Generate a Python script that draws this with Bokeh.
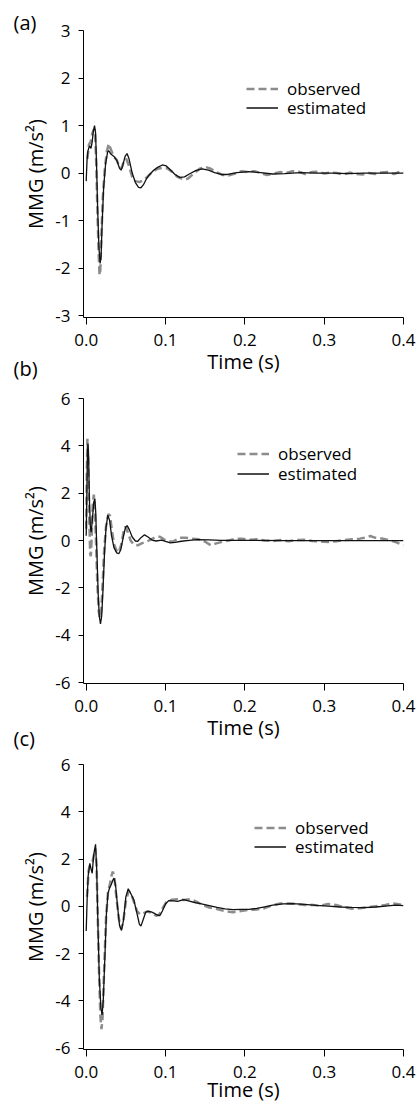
from bokeh.plotting import figure
from bokeh.layouts import column
from bokeh.models import (Legend, LegendItem, FixedTicker, PrintfTickFormatter, Range1d, Title)
from bokeh.embed import file_html
from bokeh.resources import INLINE

FONT = "Open Sans"

# ---------------- data ----------------
x_ticks = [0.0, 0.1, 0.2, 0.3, 0.4]
y_ticks_a = [-3, -2, -1, 0, 1, 2, 3]
y_ticks_bc = [-6, -4, -2, 0, 2, 4, 6]
panel_labels = ["(a)", "(b)", "(c)"]
legend_labels = ["observed", "estimated"]
x_title = "Time (s)"
y_title = "MMG (m/s\u00b2)"

# panel (a)
a_est_t = [0.000, 0.001, 0.002, 0.0033, 0.0045, 0.006, 0.0075, 0.009, 0.0105, 0.0118, 0.013, 0.0145,
           0.016, 0.0175, 0.0188, 0.020, 0.022, 0.0245, 0.027, 0.0285, 0.031, 0.035, 0.039, 0.042,
           0.044, 0.046, 0.049, 0.0515, 0.054, 0.058, 0.062, 0.066, 0.069, 0.072, 0.076, 0.080,
           0.085, 0.090, 0.096, 0.101, 0.106, 0.112, 0.118, 0.124, 0.130, 0.138, 0.146, 0.154,
           0.162, 0.170, 0.178, 0.190, 0.205, 0.220, 0.235, 0.250, 0.270, 0.290, 0.310, 0.330,
           0.350, 0.370, 0.390, 0.400]
a_est_v = [-0.17, 0.25, 0.45, 0.53, 0.57, 0.52, 0.65, 0.88, 1.00, 0.85, 0.20, -0.80,
           -1.55, -1.90, -1.75, -1.10, -0.30, 0.20, 0.44, 0.47, 0.40, 0.35, 0.25, 0.10,
           0.06, 0.15, 0.35, 0.41, 0.30, 0.00, -0.20, -0.30, -0.31, -0.25, -0.12, -0.03,
           0.06, 0.12, 0.17, 0.15, 0.07, -0.03, -0.09, -0.08, -0.02, 0.05, 0.09, 0.06,
           0.01, -0.03, -0.03, 0.01, 0.03, 0.01, -0.02, -0.01, 0.01, 0.00, 0.00, -0.01,
           0.00, 0.00, 0.00, 0.00]
a_obs_t = [0.0015, 0.0035, 0.0055, 0.0075, 0.0095, 0.011, 0.0125, 0.014, 0.0155, 0.0168, 0.0178,
           0.0192, 0.021, 0.0235, 0.026, 0.0285, 0.031, 0.0345, 0.0385, 0.042, 0.0445, 0.0475,
           0.0505, 0.054, 0.058, 0.062, 0.067, 0.072, 0.077, 0.083, 0.090, 0.096, 0.102, 0.108,
           0.115, 0.122, 0.128, 0.135, 0.143, 0.150, 0.157, 0.164, 0.172, 0.180, 0.188, 0.196,
           0.204, 0.212, 0.220, 0.228, 0.236, 0.244, 0.252, 0.260, 0.268, 0.276, 0.284, 0.292,
           0.300, 0.308, 0.316, 0.324, 0.332, 0.340, 0.348, 0.356, 0.364, 0.372, 0.380, 0.388,
           0.396, 0.400]
a_obs_v = [0.30, 0.60, 0.65, 0.82, 0.92, 0.90, 0.30, -0.70, -1.60, -2.15, -2.05,
           -1.30, -0.50, 0.10, 0.45, 0.62, 0.50, 0.35, 0.28, 0.12, 0.10, 0.25,
           0.30, 0.15, -0.08, -0.17, -0.19, -0.15, -0.08, 0.02, 0.09, 0.11, 0.10, 0.03,
           -0.08, -0.13, -0.12, -0.02, 0.09, 0.13, 0.09, 0.02, -0.04, -0.05, -0.01, 0.04,
           0.02, 0.04, 0.00, -0.04, -0.01, 0.02, 0.00, 0.04, 0.03, -0.02, 0.02, 0.03,
           -0.01, 0.01, 0.00, -0.03, 0.01, -0.02, -0.03, 0.00, -0.02, 0.01, 0.02, -0.02,
           0.03, 0.01]

# panel (b)
b_est_t = [0.000, 0.0008, 0.0015, 0.0022, 0.003, 0.004, 0.0052, 0.0063, 0.0078, 0.0095, 0.0109,
           0.012, 0.0135, 0.015, 0.0165, 0.018, 0.0195, 0.021, 0.023, 0.025, 0.0273, 0.0295,
           0.032, 0.035, 0.0385, 0.041, 0.0435, 0.0465, 0.0495, 0.0517, 0.0545, 0.058, 0.062,
           0.065, 0.069, 0.0735, 0.078, 0.083, 0.088, 0.095, 0.100, 0.106, 0.112, 0.120, 0.130,
           0.140, 0.155, 0.170, 0.200, 0.250, 0.300, 0.350, 0.400]
b_est_v = [0.20, 2.0, 3.6, 4.10, 3.6, 1.8, 0.6, 0.35, 0.9, 1.6, 1.77,
           1.2, -0.5, -2.2, -3.2, -3.52, -3.2, -2.2, -0.6, 0.55, 1.07, 0.85,
           0.20, -0.30, -0.52, -0.56, -0.40, 0.10, 0.55, 0.63, 0.45, 0.15, -0.02,
           -0.03, 0.12, 0.24, 0.15, 0.02, -0.02, 0.02, -0.04, -0.10, -0.08, -0.03, 0.01,
           0.04, 0.03, 0.01, 0.01, 0.00, 0.00, 0.00, 0.00]
b_obs_t = [0.000, 0.0008, 0.0015, 0.0025, 0.0038, 0.005, 0.0058, 0.0068, 0.0082, 0.0096, 0.011,
           0.0125, 0.014, 0.0158, 0.0175, 0.019, 0.0205, 0.0225, 0.025, 0.028, 0.030, 0.0325,
           0.0355, 0.039, 0.041, 0.044, 0.047, 0.0496, 0.0525, 0.056, 0.060, 0.065, 0.070,
           0.076, 0.082, 0.088, 0.093, 0.098, 0.104, 0.110, 0.118, 0.125, 0.133, 0.142, 0.150,
           0.157, 0.164, 0.172, 0.180, 0.188, 0.196, 0.205, 0.215, 0.225, 0.235, 0.245, 0.255,
           0.265, 0.275, 0.285, 0.295, 0.305, 0.315, 0.325, 0.335, 0.345, 0.352, 0.358, 0.364,
           0.370, 0.377, 0.384, 0.391, 0.400]
b_obs_v = [0.5, 2.8, 4.30, 3.5, 1.0, -0.55, -0.66, 0.0, 1.5, 1.94, 1.3,
           -0.2, -1.8, -3.0, -3.27, -3.0, -2.0, -0.5, 0.6, 1.12, 1.05, 0.40,
           -0.20, -0.48, -0.50, -0.20, 0.35, 0.60, 0.35, 0.00, -0.18, -0.20, -0.12,
           -0.05, 0.05, 0.15, 0.16, 0.05, -0.05, -0.03, 0.12, 0.12, 0.08, 0.05, -0.05,
           -0.20, -0.12, -0.05, 0.00, 0.08, 0.08, 0.03, 0.05, 0.00, -0.02, 0.02, -0.03,
           0.02, 0.03, -0.02, -0.04, -0.06, -0.03, 0.02, 0.05, 0.08, 0.12, 0.19, 0.12,
           0.10, 0.05, 0.00, -0.08, -0.20]

# panel (c)
c_est_t = [0.000, 0.0012, 0.0025, 0.0046, 0.006, 0.0076, 0.0095, 0.0118, 0.0132, 0.0148, 0.0165,
           0.0185, 0.020, 0.0215, 0.0235, 0.0255, 0.0275, 0.0295, 0.0315, 0.0335, 0.035, 0.037,
           0.0395, 0.042, 0.0445, 0.047, 0.050, 0.053, 0.056, 0.060, 0.064, 0.067, 0.069,
           0.072, 0.075, 0.078, 0.082, 0.086, 0.090, 0.093, 0.096, 0.100, 0.104, 0.110, 0.115,
           0.123, 0.130, 0.138, 0.144, 0.155, 0.165, 0.175, 0.185, 0.195, 0.205, 0.215, 0.225,
           0.235, 0.248, 0.260, 0.275, 0.290, 0.305, 0.320, 0.335, 0.350, 0.365, 0.380, 0.390,
           0.400]
c_est_v = [-1.05, 0.3, 1.3, 1.82, 1.6, 1.40, 2.2, 2.62, 1.6, -0.8, -3.0,
           -4.3, -4.60, -4.0, -2.2, -0.3, 0.55, 0.78, 0.91, 1.10, 1.19, 0.90,
           0.0, -0.80, -1.02, -0.60, 0.40, 0.74, 0.55, 0.28, -0.30, -0.75, -0.84,
           -0.55, -0.25, -0.21, -0.24, -0.30, -0.38, -0.39, -0.20, 0.10, 0.24, 0.23, 0.21,
           0.28, 0.22, 0.15, 0.11, 0.03, -0.05, -0.11, -0.14, -0.13, -0.13, -0.09, -0.02,
           0.05, 0.10, 0.11, 0.08, 0.04, 0.01, -0.03, -0.05, -0.06, -0.03, 0.02, 0.05,
           0.03]
c_obs_t = [0.001, 0.003, 0.005, 0.008, 0.010, 0.0115, 0.013, 0.0145, 0.016, 0.0178, 0.0192,
           0.0205, 0.0225, 0.025, 0.0275, 0.030, 0.032, 0.0335, 0.0355, 0.038, 0.041, 0.044,
           0.0465, 0.050, 0.0535, 0.057, 0.060, 0.064, 0.068, 0.072, 0.077, 0.083, 0.088,
           0.092, 0.096, 0.101, 0.108, 0.115, 0.123, 0.131, 0.139, 0.147, 0.155, 0.165, 0.175,
           0.185, 0.195, 0.205, 0.215, 0.225, 0.235, 0.245, 0.255, 0.265, 0.275, 0.285, 0.295,
           0.305, 0.315, 0.325, 0.335, 0.345, 0.355, 0.365, 0.375, 0.385, 0.392, 0.400]
c_obs_v = [0.4, 1.5, 1.78, 1.89, 2.2, 2.45, 1.8, -0.3, -2.5, -4.6, -5.2,
           -4.8, -2.8, -0.5, 0.60, 0.95, 1.30, 1.47, 1.25, 0.40, -0.50, -0.95,
           -0.70, 0.20, 0.65, 0.50, 0.20, -0.20, -0.35, -0.30, -0.22, -0.28, -0.40,
           -0.35, -0.10, 0.18, 0.28, 0.30, 0.27, 0.30, 0.20, 0.05, -0.05, -0.12, -0.20,
           -0.25, -0.20, -0.15, -0.14, -0.08, 0.05, 0.12, 0.12, 0.10, 0.05, 0.06, 0.03,
           0.10, 0.06, -0.04, -0.10, -0.08, -0.04, 0.00, 0.04, 0.12, 0.10, 0.05]

OBS_COLOR = "#8c8c8c"
EST_COLOR = "#111111"

X0 = -0.0034
X1 = 0.4
FRAME_LEFT = 83


def make_panel(height, border_top, border_bottom, y0, y1, yticks,
               obs_t, obs_v, est_t, est_v, legend_x, legend_ys, label, label_standoff,
               spacer, margin_top, xlabel_standoff):
    p = figure(width=416, height=height, output_backend="svg", toolbar_location=None,
               title=None,
               x_range=Range1d(X0, X1), y_range=Range1d(y0, y1),
               min_border_left=FRAME_LEFT, min_border_right=13,
               min_border_top=border_top, min_border_bottom=border_bottom,
               margin=(margin_top, 0, 0, 0))
    p.outline_line_color = None
    p.grid.visible = False
    p.background_fill_alpha = 0
    p.border_fill_alpha = 0

    r_obs = p.line(obs_t, obs_v, line_color=OBS_COLOR, line_width=2.5, line_dash="8 4")
    r_est = p.line(est_t, est_v, line_color=EST_COLOR, line_width=1.3)

    for ax in (p.xaxis[0], p.yaxis[0]):
        ax.axis_line_color = "black"
        ax.axis_line_width = 1
        ax.major_tick_line_color = "black"
        ax.minor_tick_line_color = None
        ax.major_tick_in = 0
        ax.major_label_text_font = FONT
        ax.major_label_text_font_size = "17px"
        ax.major_label_text_color = "black"
        ax.axis_label_text_font = FONT
        ax.axis_label_text_font_size = "20px"
        ax.axis_label_text_font_style = "normal"
        ax.axis_label_text_color = "black"

    p.xaxis.ticker = FixedTicker(ticks=x_ticks)
    p.xaxis.formatter = PrintfTickFormatter(format="%.1f")
    p.xaxis.major_tick_out = 7
    p.xaxis.major_label_standoff = 9
    p.xaxis.axis_label = x_title
    p.xaxis.axis_label_standoff = xlabel_standoff

    p.yaxis.ticker = FixedTicker(ticks=yticks)
    p.yaxis.formatter = PrintfTickFormatter(format="%d")
    p.yaxis.major_tick_out = 5
    p.yaxis.major_label_standoff = 8
    p.yaxis.axis_label = y_title
    p.yaxis.axis_label_standoff = 3

    for item_label, rend, ly in zip(legend_labels, [r_obs, r_est], legend_ys):
        legend = Legend(items=[LegendItem(label=item_label, renderers=[rend])],
                        location=(legend_x, ly), orientation="vertical",
                        glyph_width=32, glyph_height=19, label_height=19, spacing=0,
                        label_standoff=9, padding=0, margin=0,
                        border_line_alpha=0, background_fill_alpha=0,
                        label_text_font=FONT, label_text_font_size="17px",
                        label_text_color="black")
        p.add_layout(legend, "center")

    if spacer > 0:
        p.add_layout(Title(text=" ", text_font_size="1px", standoff=spacer - 1), "above")
    p.add_layout(Title(text=label, align="left", offset=13 - FRAME_LEFT,
                       standoff=label_standoff, vertical_align="bottom",
                       text_font=FONT, text_font_size="20px", text_font_style="normal",
                       text_color="black"), "above")
    return p


# panel a: figure 0..378, frame 30..317
p1 = make_panel(378, 30, 61, -3.04, 3, y_ticks_a, a_obs_t, a_obs_v, a_est_t, a_est_v,
                163, (217, 198), panel_labels[0], -10, 0, 0, -1)
# panel b: figure 343..745, frame 398..683
p2 = make_panel(402, 55, 62, -6.04, 6, y_ticks_bc, b_obs_t, b_obs_v, b_est_t, b_est_v,
                154, (218, 198), panel_labels[1], 0, 15, -35, -1)
# panel c: figure 714..1106, frame 764..1049
p3 = make_panel(392, 50, 57, -6.06, 6, y_ticks_bc, c_obs_t, c_obs_v, c_est_t, c_est_v,
                171, (210, 191), panel_labels[2], 0, 11, -31, -5)

layout = column(p1, p2, p3, spacing=0)
open("out.html", "w").write(file_html(layout, INLINE))
